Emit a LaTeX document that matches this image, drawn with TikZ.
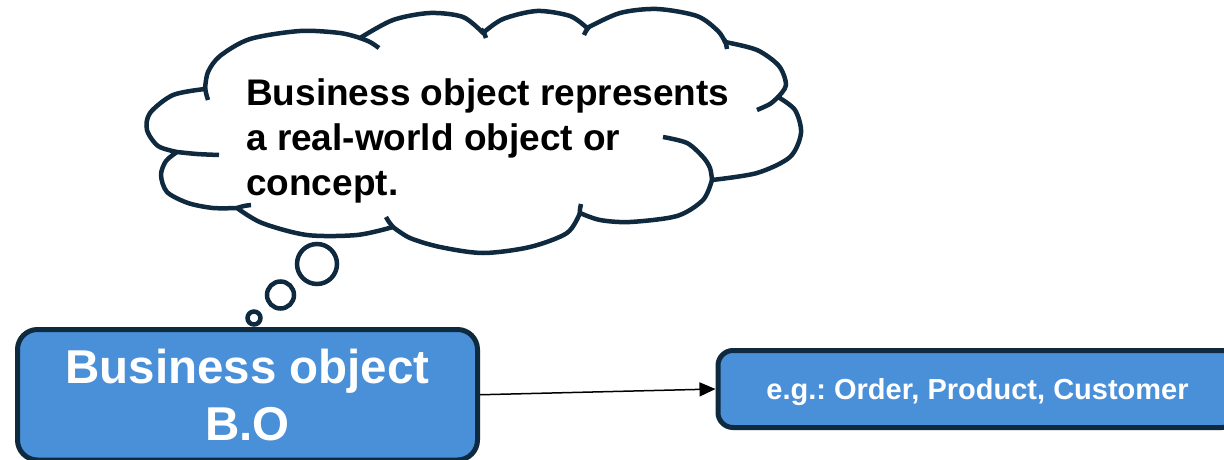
\documentclass[tikz,border=0pt]{standalone}
\usepackage{fontspec}
\setmainfont{Liberation Sans}
\usetikzlibrary{arrows.meta}
\definecolor{navy}{HTML}{0F2A3F}
\definecolor{boblue}{HTML}{4A90D9}
\frenchspacing
\begin{document}
\begin{tikzpicture}[x=1pt,y=-1pt,
  cloudline/.style={draw=navy,line width=4.5pt,line join=round},
  hookline/.style={draw=navy,line width=4.5pt},
  bubble/.style={draw=navy,line width=4.5pt,fill=white},
  bobox/.style={draw=navy,line width=5pt,fill=boblue,text=white,inner sep=0pt},
  cloudtext/.style={anchor=base west,inner sep=0pt,font=\fontsize{37}{44}\selectfont\bfseries},
  conn/.style={draw=black,line width=1.5pt,-{Triangle[length=16pt,width=14pt]}}
]
\useasboundingbox (0,0) rectangle (1224,460);
% cloud outline
\path[cloudline,fill=white]
  plot[smooth] coordinates {(205,89) (208,72) (220,56) (250,39) (300,31) (340,33) (360,38)}
  -- plot[smooth] coordinates {(360,38) (393,20) (430,13) (463,17) (483,33)}
  -- plot[smooth] coordinates {(483,33) (503,19) (537,11) (570,16) (587,28)}
  -- plot[smooth] coordinates {(587,28) (620,13) (657,9) (697,16) (718,31) (725,42)}
  -- plot[smooth] coordinates {(725,42) (757,50) (779,66) (786,85) (778,97)}
  -- plot[smooth] coordinates {(778,97) (795,110) (801,133) (790,157) (757,173) (712,180)}
  -- plot[smooth] coordinates {(712,180) (703,200) (677,216) (630,222) (600,220) (580,213)}
  -- plot[smooth] coordinates {(580,213) (567,233) (530,247) (483,253) (440,247) (410,238) (393,227)}
  -- plot[smooth] coordinates {(393,227) (357,235) (307,235) (262,223) (237,208)}
  -- plot[smooth] coordinates {(237,208) (213,208) (188,203) (167,192) (161,175) (166,161) (177,152)}
  -- plot[smooth] coordinates {(177,152) (158,146) (147,130) (150,113) (173,95) (205,89)}
  -- cycle;
% inner hooks
\draw[hookline] plot[smooth] coordinates {(205,87) (206,93) (208,100)};
\draw[hookline] plot[smooth] coordinates {(360,38) (370,42) (379,48)};
\draw[hookline] plot[smooth] coordinates {(481,29) (484,33) (486,38)};
\draw[hookline] plot[smooth] coordinates {(589,27) (586,31) (584,35)};
\draw[hookline] plot[smooth] coordinates {(724,39) (726,44) (727,49)};
\draw[hookline] plot[smooth] coordinates {(778,97) (770,104) (757,110)};
\draw[hookline] plot[smooth] coordinates {(663,137) (687,143) (703,157) (710,168) (712,180)};
\draw[hookline] plot[smooth] coordinates {(580,214) (580,209) (581,204)};
\draw[hookline] plot[smooth] coordinates {(393,227) (389,222) (386,217)};
\draw[hookline] plot[smooth] coordinates {(237,208) (244,206) (251,205)};
\draw[hookline] plot[smooth] coordinates {(177,152) (197,154) (219,155)};
% cloud text
\node[cloudtext] (t1) at (246,105) {Business object represents};
\node[cloudtext] (t2) at (246,150) {a real-world object or};
\node[cloudtext] (t3) at (246,195) {concept.};
% thought bubbles
\draw[bubble] (254,318) circle[radius=6.5];
\draw[bubble] (280.5,295) circle[radius=13.5];
\draw[bubble] (317,264) circle[radius=20];
% boxes
\node[bobox,rounded corners=20pt,minimum width=460pt,minimum height=130.5pt,
      align=center,font=\fontsize{47.5}{57}\selectfont\bfseries] (bo) at (247.5,394.75) {Business object\\B.O};
\node[bobox,rounded corners=15pt,minimum width=519pt,minimum height=77pt,text depth=0pt,
      font=\fontsize{29}{34}\selectfont\bfseries] (ex) at (977.5,389) {e.g.: Order, Product, Customer};
% connector
\draw[conn] (bo.east) -- (ex.west);
\end{tikzpicture}
\end{document}
